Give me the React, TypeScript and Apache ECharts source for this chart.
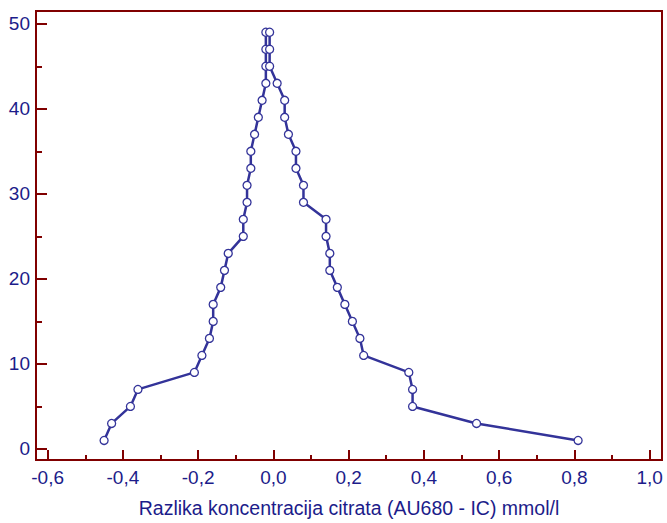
import React, { useEffect, useRef } from "react";
import * as echarts from "echarts";

// Folded percentiles (mountain plot) – y values for each side
const foldedPercentiles = [1, 3, 5, 7, 9, 11, 13, 15, 17, 19, 21, 23, 25, 27, 29, 31, 33, 35, 37, 39, 41, 43, 45, 47, 49];
// Differences (mmol/l) on the lower (left) side, ascending percentile
const leftDiffs = [-0.45, -0.43, -0.38, -0.36, -0.21, -0.19, -0.17, -0.16, -0.16, -0.14, -0.13, -0.12, -0.08, -0.08, -0.07, -0.07, -0.06, -0.06, -0.05, -0.04, -0.03, -0.02, -0.02, -0.02, -0.02];
// Differences (mmol/l) on the upper (right) side, same percentile order
const rightDiffs = [0.81, 0.54, 0.37, 0.37, 0.36, 0.24, 0.23, 0.21, 0.19, 0.17, 0.15, 0.15, 0.14, 0.14, 0.08, 0.08, 0.06, 0.06, 0.04, 0.03, 0.03, 0.01, -0.01, -0.01, -0.01];

const xAxisTitle = "Razlika koncentracija citrata (AU680 - IC) mmol/l";

const FRAME = "#800000";
const TEXT = "#1c1c8a";
const LINE = "#333399";
const FONT = "'Liberation Sans', Arial, sans-serif";

export default function App() {
  const ref = useRef<HTMLDivElement>(null);

  useEffect(() => {
    if (!ref.current) return;
    const chart = echarts.init(ref.current, undefined, { renderer: "svg" });

    const pts: [number, number][] = [];
    foldedPercentiles.forEach((p, i) => pts.push([leftDiffs[i], p]));
    for (let i = foldedPercentiles.length - 1; i >= 0; i--) pts.push([rightDiffs[i], foldedPercentiles[i]]);

    const isMult = (v: number, step: number) => Math.abs(v / step - Math.round(v / step)) < 1e-6;

    chart.setOption({
      animation: false,
      backgroundColor: "#ffffff",
      grid: {
        left: 36,
        right: 5,
        top: 11,
        bottom: 58,
        show: true,
        borderColor: FRAME,
        borderWidth: 2,
        backgroundColor: "transparent",
      },
      xAxis: {
        type: "value",
        min: -0.631,
        max: 1.033,
        splitNumber: 8,
        name: xAxisTitle,
        nameLocation: "middle",
        nameGap: 38,
        nameTextStyle: { color: TEXT, fontSize: 19.5, fontFamily: FONT },
        axisLine: { show: true, onZero: false, lineStyle: { color: FRAME, width: 2 } },
        axisTick: { show: true, inside: true, length: 10, lineStyle: { color: FRAME, width: 2 } },
        minorTick: { show: true, splitNumber: 2, length: 5, lineStyle: { color: FRAME, width: 2 } },
        splitLine: { show: false },
        axisLabel: {
          color: TEXT,
          fontSize: 19,
          fontFamily: FONT,
          margin: 8,
          showMinLabel: false,
          showMaxLabel: false,
          formatter: (v: number) => (isMult(v, 0.2) ? v.toFixed(1).replace(".", ",") : ""),
        },
      },
      yAxis: {
        type: "value",
        min: -1.3,
        max: 51.5,
        splitNumber: 5,
        axisLine: { show: true, onZero: false, lineStyle: { color: FRAME, width: 2 } },
        axisTick: { show: true, inside: true, length: 11, lineStyle: { color: FRAME, width: 2 } },
        minorTick: { show: true, splitNumber: 2, length: 6, lineStyle: { color: FRAME, width: 2 } },
        splitLine: { show: false },
        axisLabel: {
          color: TEXT,
          fontSize: 19,
          fontFamily: FONT,
          margin: 6,
          showMinLabel: false,
          showMaxLabel: false,
          formatter: (v: number) => (isMult(v, 10) ? String(Math.round(v)) : ""),
        },
      },
      series: [
        {
          type: "line",
          data: pts,
          symbol: "circle",
          symbolSize: 8,
          showAllSymbol: true,
          lineStyle: { color: LINE, width: 2.5 },
          itemStyle: { color: "#ffffff", borderColor: LINE, borderWidth: 1.3 },
          emphasis: { disabled: true },
        },
      ],
    });

    return () => chart.dispose();
  }, []);

  return (
    <div
      ref={ref}
      style={{ position: "absolute", left: 0, top: 0, width: 667, height: 523, background: "#fff" }}
    />
  );
}
